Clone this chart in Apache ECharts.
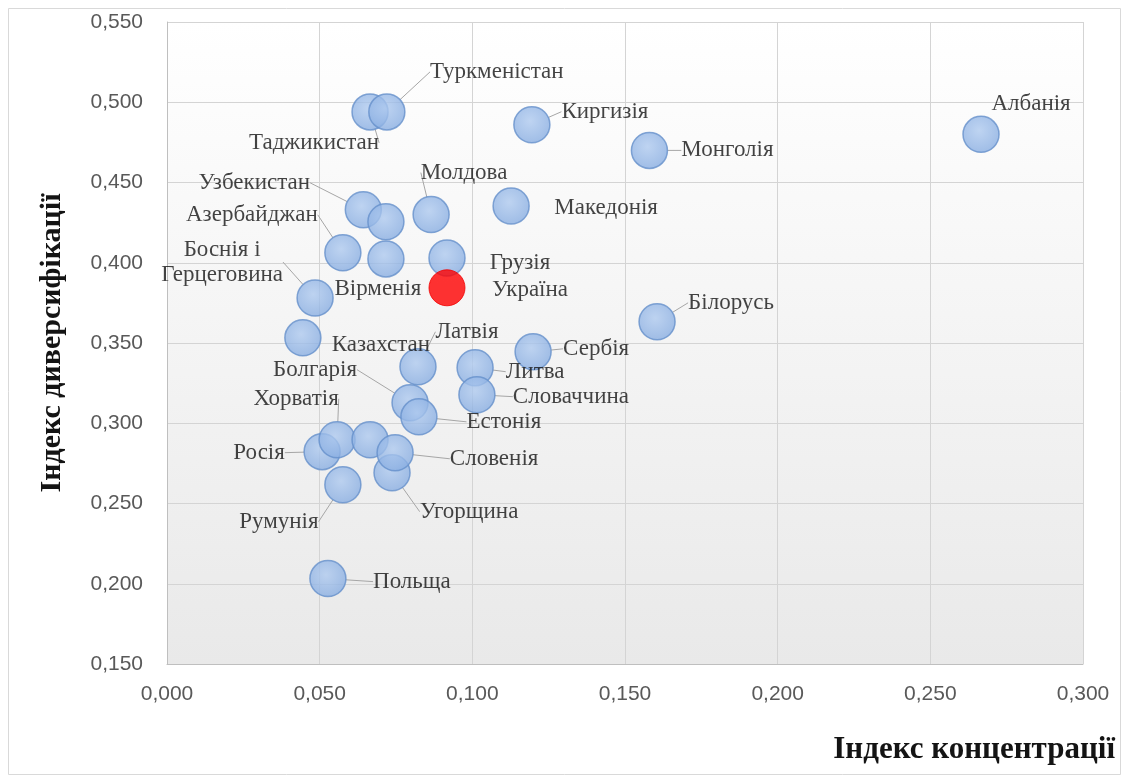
<!DOCTYPE html>
<html>
<head>
<meta charset="utf-8">
<script src="https://cdn.jsdelivr.net/npm/echarts@6/dist/echarts.min.js"></script>
<style>
html,body{margin:0;padding:0;background:#fff;}
#chart{width:1129px;height:783px;}
</style>
</head>
<body>
<div id="chart"></div>
<script>
// ---- data ----
const countries = ['Таджикистан','Туркменістан','Киргизія','Монголія','Албанія','Узбекистан','','Молдова','Македонія','Азербайджан','Вірменія','Грузія','Боснія і\nГерцеговина','Казахстан','Білорусь','Сербія','Латвія','Литва','Словаччина','Болгарія','Естонія','Росія','Хорватія','','Угорщина','Словенія','Румунія','Польща'];
const concentration = [0.0665,0.072,0.1195,0.158,0.2666,0.0643,0.0717,0.0865,0.1127,0.0576,0.0717,0.0917,0.0485,0.0445,0.1605,0.1199,0.0822,0.1009,0.1015,0.0796,0.0825,0.0508,0.0557,0.0665,0.0737,0.0747,0.0576,0.0527];
const diversification = [0.494,0.494,0.486,0.470,0.480,0.433,0.4255,0.430,0.4354,0.4062,0.4024,0.403,0.378,0.3532,0.3632,0.3445,0.3352,0.3346,0.3178,0.3128,0.304,0.2823,0.2897,0.2897,0.2692,0.2816,0.2617,0.2032];
const highlightName = 'Україна';
const highlightConcentration = 0.0917;
const highlightDiversification = 0.3844;
const xTickLabels = ['0,000','0,050','0,100','0,150','0,200','0,250','0,300'];
const yTickLabels = ['0,150','0,200','0,250','0,300','0,350','0,400','0,450','0,500','0,550'];

// ---- label placement (pixel offsets from point centre) ----
const labelOffsets = {
  'Таджикистан':[-56,31],'Туркменістан':[110,-40],'Киргизія':[73,-13],'Монголія':[78,0],
  'Албанія':[50,-30],'Узбекистан':[-109,-27],'Молдова':[33,-42],'Македонія':[95,2],
  'Азербайджан':[-91,-38],'Вірменія':[-8,30],'Грузія':[73,5],'Україна':[83,2],
  'Боснія і\nГерцеговина':[-93,-36],'Казахстан':[78,7],'Білорусь':[74,-19],'Сербія':[63,-3],
  'Латвія':[49,-35],'Литва':[60,4],'Словаччина':[94,2],'Болгарія':[-95,-33],'Естонія':[85,5],
  'Хорватія':[-41,-41],'Росія':[-63,1],'Словенія':[99,6],'Угорщина':[77,39],'Румунія':[-64,37],
  'Польща':[84,3]
};
const noLine = { 'Вірменія': 1, 'Грузія': 1, 'Македонія': 1, 'Казахстан': 1, 'Албанія': 1 };

const blueData = countries.map((n, i) => {
  const d = { name: n, value: [concentration[i], diversification[i]] };
  if (!n) { d.label = { show: false }; d.labelLine = { show: false }; }
  else if (noLine[n]) { d.labelLine = { show: false }; }
  return d;
});
const redData = [{ name: highlightName, value: [highlightConcentration, highlightDiversification] }];

const labelStyle = {
  show: true, position: 'inside', formatter: '{b}',
  fontFamily: 'Liberation Serif', fontSize: 23, color: '#141414',
  align: 'center', verticalAlign: 'middle', lineHeight: 25
};
const lineStyle = { show: true, lineStyle: { color: '#a6a6a6', width: 1 } };

function layoutFor(names) {
  return function (p) {
    const o = labelOffsets[names[p.dataIndex]] || [0, 0];
    return { dx: o[0], dy: o[1] };
  };
}

const xMin = 0, xMax = 0.3, xInt = 0.05;
const yMin = 0.15, yMax = 0.55, yInt = 0.05;

const chart = echarts.init(document.getElementById('chart'));
chart.setOption({
  animation: false,
  backgroundColor: '#ffffff',
  graphic: [{
    type: 'rect', z: -10, silent: true,
    shape: { x: 8.5, y: 8.5, width: 1112, height: 766 },
    style: { fill: 'none', stroke: '#d9d9d9', lineWidth: 1 }
  }],
  grid: {
    left: 167, right: 46, top: 22, bottom: 119,
    show: true, borderWidth: 0,
    backgroundColor: new echarts.graphic.LinearGradient(0, 0, 0, 1, [
      { offset: 0, color: '#ffffff' }, { offset: 1, color: '#e9e9e9' }
    ])
  },
  xAxis: {
    type: 'value', min: xMin, max: xMax, interval: xInt,
    name: 'Індекс концентрації', nameLocation: 'end', nameGap: 32,
    nameTextStyle: { fontFamily: 'Liberation Serif', fontWeight: 'bold', fontSize: 31, color: '#141414',
      align: 'right', verticalAlign: 'top', padding: [70, 0, 0, 0] },
    axisLine: { show: true, lineStyle: { color: '#bfbfbf', width: 1 } },
    axisTick: { show: false },
    splitLine: { show: true, lineStyle: { color: '#d4d4d4', width: 1 } },
    axisLabel: {
      margin: 20, fontFamily: 'Liberation Sans', fontSize: 21, color: '#595959',
      formatter: v => xTickLabels[Math.round((v - xMin) / xInt)]
    }
  },
  yAxis: {
    type: 'value', min: yMin, max: yMax, interval: yInt,
    name: 'Індекс диверсифікації', nameLocation: 'middle', nameGap: 100,
    nameTextStyle: { fontFamily: 'Liberation Serif', fontWeight: 'bold', fontSize: 30, color: '#141414' },
    axisLine: { show: true, lineStyle: { color: '#bfbfbf', width: 1 } },
    axisTick: { show: false },
    splitLine: { show: true, lineStyle: { color: '#d4d4d4', width: 1 } },
    axisLabel: {
      margin: 24, fontFamily: 'Liberation Sans', fontSize: 21, color: '#595959',
      formatter: v => yTickLabels[Math.round((v - yMin) / yInt)]
    }
  },
  series: [{
    type: 'scatter', name: 'countries', data: blueData, symbol: 'circle', symbolSize: 36,
    itemStyle: {
      color: { type: 'radial', x: 0.45, y: 0.4, r: 0.6,
        colorStops: [{ offset: 0, color: '#afcaef' }, { offset: 1, color: '#88ade1' }] },
      borderColor: '#6590cb', borderWidth: 1.5
    },
    label: labelStyle, labelLine: lineStyle,
    labelLayout: layoutFor(countries),
    emphasis: { disabled: true }
  }, {
    type: 'scatter', name: 'ukraine', data: redData, symbol: 'circle', symbolSize: 36,
    itemStyle: { color: '#ff0000', borderColor: '#f00000', borderWidth: 1 },
    label: labelStyle, labelLine: { show: false },
    labelLayout: layoutFor([highlightName]),
    emphasis: { disabled: true }, z: 3
  }]
});
</script>
</body>
</html>
